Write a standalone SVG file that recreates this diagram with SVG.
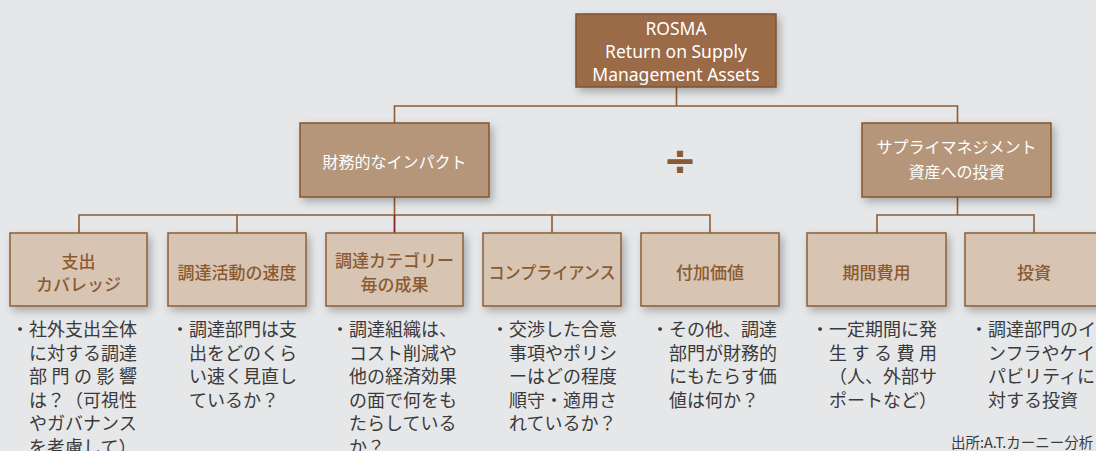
<svg xmlns="http://www.w3.org/2000/svg" width="1096" height="451" viewBox="0 0 1096 451">
<defs>
<filter id="sh" x="-20%" y="-20%" width="140%" height="150%">
<feDropShadow dx="3" dy="4" stdDeviation="4" flood-color="#000" flood-opacity="0.28"/>
</filter>
<style>
.top{fill:#9b6b46;stroke:#7d5230;stroke-width:1.5}
.l2{fill:#b5967a;stroke:#86552d;stroke-width:1.5}
.l3{fill:#d8c4b2;stroke:#8d5d36;stroke-width:1.5}
.tw{fill:#ffffff;font-family:"Noto Sans","Noto Sans CJK JP",sans-serif;text-anchor:middle;dominant-baseline:central}
.tj{fill:#ffffff;font-family:"Noto Sans CJK JP",sans-serif;font-size:16px;text-anchor:middle;dominant-baseline:central}
.tb{fill:#8a5a31;font-family:"Noto Sans CJK JP",sans-serif;font-size:17px;font-weight:500;text-anchor:middle;dominant-baseline:central}
.d{fill:#3a3a3a;font-family:"Noto Sans CJK JP",sans-serif;font-size:18px;dominant-baseline:central}
.ln{fill:none;stroke:#8d5d36;stroke-width:1.6}
</style>
</defs>
<rect x="0" y="0" width="1096" height="451" fill="#e6e7e9"/>
<g id="connectors">
<path class="ln" d="M676.5 87V106M394.5 123V106H957.5V123"/>
<path class="ln" d="M394.5 197V215M79 233V215H710V233M237 215V233M552 215V233"/>
<path d="M394.5 215V233" fill="none" stroke="#8b2222" stroke-width="1.8"/>
<path class="ln" d="M957.5 197V215M877 233V215H1034V233"/>
</g>
<g id="rosma">
<rect class="top" x="576" y="14" width="200" height="73" filter="url(#sh)"/>
<text class="tw" font-size="17.5" x="676" y="28">ROSMA</text>
<text class="tw" font-size="17.5" x="676" y="51">Return on Supply</text>
<text class="tw" font-size="17.5" x="676" y="74">Management Assets</text>
</g>
<g id="financial">
<rect class="l2" x="300" y="123" width="189" height="74" filter="url(#sh)"/>
<text class="tj" x="394.5" y="161">財務的なインパクト</text>
</g>
<g id="divide">
<text x="680" y="161" fill="#8a5a31" font-family="DejaVu Sans,sans-serif" font-size="40" font-weight="bold" text-anchor="middle" dominant-baseline="central">÷</text>
</g>
<g id="assets">
<rect class="l2" x="862" y="123" width="189" height="74" filter="url(#sh)"/>
<text class="tj" x="956.5" y="146">サプライマネジメント</text>
<text class="tj" x="956.5" y="171">資産への投資</text>
</g>
<g id="n1">
<rect class="l3" x="10" y="233" width="137" height="73" filter="url(#sh)"/>
<text class="tb" x="78.5" y="260">支出</text>
<text class="tb" x="78.5" y="283">カバレッジ</text>
<text class="d" x="11" y="328">・社外支出全体</text>
<text class="d" x="29" y="351.5">に対する調達</text>
<text class="d" x="29" y="375" textLength="108" lengthAdjust="spacing">部門の影響</text>
<text class="d" x="29" y="398.5">は？（可視性</text>
<text class="d" x="29" y="422">やガバナンス</text>
<text class="d" x="29" y="445.5">を考慮して）</text>
</g>
<g id="n2">
<rect class="l3" x="168" y="233" width="138" height="73" filter="url(#sh)"/>
<text class="tb" x="237" y="271">調達活動の速度</text>
<text class="d" x="171" y="328">・調達部門は支</text>
<text class="d" x="189" y="351.5">出をどのくら</text>
<text class="d" x="189" y="375">い速く見直し</text>
<text class="d" x="189" y="398.5">ているか？</text>
</g>
<g id="n3">
<rect class="l3" x="326" y="233" width="137" height="73" filter="url(#sh)"/>
<text class="tb" x="394.5" y="259">調達カテゴリー</text>
<text class="tb" x="394.5" y="283">毎の成果</text>
<text class="d" x="331" y="328">・調達組織は、</text>
<text class="d" x="349" y="351.5">コスト削減や</text>
<text class="d" x="349" y="375">他の経済効果</text>
<text class="d" x="349" y="398.5">の面で何をも</text>
<text class="d" x="349" y="422">たらしている</text>
<text class="d" x="349" y="445.5">か？</text>
</g>
<g id="n4">
<rect class="l3" x="483" y="233" width="138" height="73" filter="url(#sh)"/>
<text class="tb" x="552" y="271" textLength="127" lengthAdjust="spacingAndGlyphs">コンプライアンス</text>
<text class="d" x="491" y="328">・交渉した合意</text>
<text class="d" x="509" y="351.5">事項やポリシ</text>
<text class="d" x="509" y="375">ーはどの程度</text>
<text class="d" x="509" y="398.5">順守・適用さ</text>
<text class="d" x="509" y="422">れているか？</text>
</g>
<g id="n5">
<rect class="l3" x="641" y="233" width="138" height="73" filter="url(#sh)"/>
<text class="tb" x="710" y="271">付加価値</text>
<text class="d" x="651" y="328">・その他、調達</text>
<text class="d" x="669" y="351.5">部門が財務的</text>
<text class="d" x="669" y="375">にもたらす価</text>
<text class="d" x="669" y="398.5">値は何か？</text>
</g>
<g id="n6">
<rect class="l3" x="807" y="233" width="139" height="73" filter="url(#sh)"/>
<text class="tb" x="876.5" y="271">期間費用</text>
<text class="d" x="811" y="328">・一定期間に発</text>
<text class="d" x="829" y="351.5" textLength="108" lengthAdjust="spacing">生する費用</text>
<text class="d" x="829" y="375">（人、外部サ</text>
<text class="d" x="829" y="398.5">ポートなど）</text>
</g>
<g id="n7">
<rect class="l3" x="965" y="233" width="138" height="73" filter="url(#sh)"/>
<text class="tb" x="1034" y="271">投資</text>
<text class="d" x="970" y="328">・調達部門のイ</text>
<text class="d" x="988" y="351.5">ンフラやケイ</text>
<text class="d" x="988" y="375">パビリティに</text>
<text class="d" x="988" y="398.5">対する投資</text>
</g>
<g id="source">
<text x="951" y="441" fill="#3a3a3a" font-family="Noto Sans CJK JP,sans-serif" font-size="14.5" dominant-baseline="central">出所:A.T.カーニー分析</text>
</g>
</svg>
